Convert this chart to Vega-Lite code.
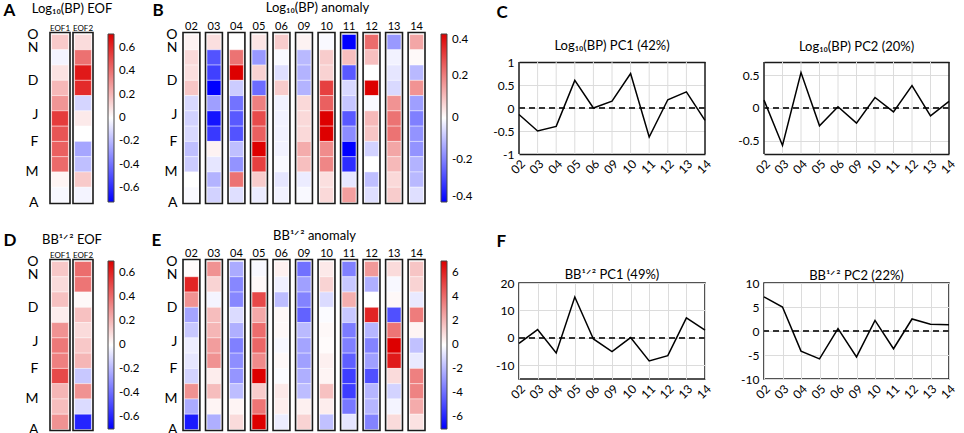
{
  "$schema": "https://vega.github.io/schema/vega-lite/v6.json",
  "padding": {"left": 3, "top": 1, "right": 2, "bottom": 0},
  "config": {
    "font": "Lato",
    "view": {"stroke": null},
    "axis": {"labelColor": "black", "titleColor": "black", "labelOverlap": false, "domain": false, "ticks": false},
    "legend": {"labelColor": "black"},
    "title": {"color": "black"}
  },
  "datasets": {
    "eofA": [
      {"c": "EOF1", "t": 0, "v": 0.15}, {"c": "EOF1", "t": 1, "v": -0.03}, {"c": "EOF1", "t": 2, "v": 0.08}, {"c": "EOF1", "t": 3, "v": 0.2}, {"c": "EOF1", "t": 4, "v": 0.3}, {"c": "EOF1", "t": 5, "v": 0.55}, {"c": "EOF1", "t": 6, "v": 0.48}, {"c": "EOF1", "t": 7, "v": 0.45}, {"c": "EOF1", "t": 8, "v": 0.42}, {"c": "EOF1", "t": 9, "v": 0.03}, {"c": "EOF1", "t": 10, "v": -0.02},
      {"c": "EOF2", "t": 0, "v": 0.1}, {"c": "EOF2", "t": 1, "v": 0.4}, {"c": "EOF2", "t": 2, "v": 0.65}, {"c": "EOF2", "t": 3, "v": 0.6}, {"c": "EOF2", "t": 4, "v": -0.12}, {"c": "EOF2", "t": 5, "v": 0.06}, {"c": "EOF2", "t": 6, "v": 0}, {"c": "EOF2", "t": 7, "v": -0.25}, {"c": "EOF2", "t": 8, "v": -0.18}, {"c": "EOF2", "t": 9, "v": 0.15}, {"c": "EOF2", "t": 10, "v": -0.03}
    ],
    "eofD": [
      {"c": "EOF1", "t": 0, "v": 0.15}, {"c": "EOF1", "t": 1, "v": 0.1}, {"c": "EOF1", "t": 2, "v": 0.17}, {"c": "EOF1", "t": 3, "v": 0.05}, {"c": "EOF1", "t": 4, "v": 0.3}, {"c": "EOF1", "t": 5, "v": 0.37}, {"c": "EOF1", "t": 6, "v": 0.35}, {"c": "EOF1", "t": 7, "v": 0.5}, {"c": "EOF1", "t": 8, "v": 0.2}, {"c": "EOF1", "t": 9, "v": 0.18}, {"c": "EOF1", "t": 10, "v": 0.3},
      {"c": "EOF2", "t": 0, "v": 0.4}, {"c": "EOF2", "t": 1, "v": 0.38}, {"c": "EOF2", "t": 2, "v": 0.02}, {"c": "EOF2", "t": 3, "v": 0.17}, {"c": "EOF2", "t": 4, "v": 0.1}, {"c": "EOF2", "t": 5, "v": 0.15}, {"c": "EOF2", "t": 6, "v": 0.2}, {"c": "EOF2", "t": 7, "v": -0.15}, {"c": "EOF2", "t": 8, "v": 0.3}, {"c": "EOF2", "t": 9, "v": -0.1}, {"c": "EOF2", "t": 10, "v": -0.6}
    ],
    "anomB": [
      {"c": "02", "t": 0, "v": 0.02}, {"c": "02", "t": 1, "v": 0.06}, {"c": "02", "t": 2, "v": 0.05}, {"c": "02", "t": 3, "v": 0.09}, {"c": "02", "t": 4, "v": -0.06}, {"c": "02", "t": 5, "v": -0.07}, {"c": "02", "t": 6, "v": -0.06}, {"c": "02", "t": 7, "v": -0.1}, {"c": "02", "t": 8, "v": -0.08}, {"c": "02", "t": 9, "v": 0}, {"c": "02", "t": 10, "v": -0.01},
      {"c": "03", "t": 0, "v": 0.05}, {"c": "03", "t": 1, "v": -0.27}, {"c": "03", "t": 2, "v": -0.3}, {"c": "03", "t": 3, "v": -0.4}, {"c": "03", "t": 4, "v": -0.15}, {"c": "03", "t": 5, "v": -0.37}, {"c": "03", "t": 6, "v": -0.31}, {"c": "03", "t": 7, "v": 0.02}, {"c": "03", "t": 8, "v": -0.04}, {"c": "03", "t": 9, "v": -0.12}, {"c": "03", "t": 10, "v": -0.07},
      {"c": "04", "t": 0, "v": 0}, {"c": "04", "t": 1, "v": 0.22}, {"c": "04", "t": 2, "v": 0.4}, {"c": "04", "t": 3, "v": -0.08}, {"c": "04", "t": 4, "v": -0.22}, {"c": "04", "t": 5, "v": -0.26}, {"c": "04", "t": 6, "v": -0.27}, {"c": "04", "t": 7, "v": -0.1}, {"c": "04", "t": 8, "v": -0.17}, {"c": "04", "t": 9, "v": 0.22}, {"c": "04", "t": 10, "v": -0.05},
      {"c": "05", "t": 0, "v": 0.04}, {"c": "05", "t": 1, "v": -0.16}, {"c": "05", "t": 2, "v": 0.07}, {"c": "05", "t": 3, "v": -0.23}, {"c": "05", "t": 4, "v": 0.2}, {"c": "05", "t": 5, "v": 0.28}, {"c": "05", "t": 6, "v": 0.25}, {"c": "05", "t": 7, "v": 0.4}, {"c": "05", "t": 8, "v": 0.3}, {"c": "05", "t": 9, "v": 0.08}, {"c": "05", "t": 10, "v": -0.03},
      {"c": "06", "t": 0, "v": 0.08}, {"c": "06", "t": 1, "v": -0.01}, {"c": "06", "t": 2, "v": -0.05}, {"c": "06", "t": 3, "v": 0.08}, {"c": "06", "t": 4, "v": -0.02}, {"c": "06", "t": 5, "v": -0.02}, {"c": "06", "t": 6, "v": -0.02}, {"c": "06", "t": 7, "v": -0.02}, {"c": "06", "t": 8, "v": -0.01}, {"c": "06", "t": 9, "v": -0.04}, {"c": "06", "t": 10, "v": -0.02},
      {"c": "09", "t": 0, "v": 0.02}, {"c": "09", "t": 1, "v": -0.11}, {"c": "09", "t": 2, "v": -0.12}, {"c": "09", "t": 3, "v": -0.12}, {"c": "09", "t": 4, "v": 0.06}, {"c": "09", "t": 5, "v": 0.06}, {"c": "09", "t": 6, "v": 0.06}, {"c": "09", "t": 7, "v": 0.13}, {"c": "09", "t": 8, "v": 0.1}, {"c": "09", "t": 9, "v": -0.03}, {"c": "09", "t": 10, "v": -0.01},
      {"c": "10", "t": 0, "v": -0.01}, {"c": "10", "t": 1, "v": 0.08}, {"c": "10", "t": 2, "v": 0.07}, {"c": "10", "t": 3, "v": 0.3}, {"c": "10", "t": 4, "v": 0.25}, {"c": "10", "t": 5, "v": 0.4}, {"c": "10", "t": 6, "v": 0.4}, {"c": "10", "t": 7, "v": 0.18}, {"c": "10", "t": 8, "v": 0.19}, {"c": "10", "t": 9, "v": 0.05}, {"c": "10", "t": 10, "v": 0.06},
      {"c": "11", "t": 0, "v": -0.4}, {"c": "11", "t": 1, "v": 0.1}, {"c": "11", "t": 2, "v": -0.26}, {"c": "11", "t": 3, "v": -0.06}, {"c": "11", "t": 4, "v": -0.09}, {"c": "11", "t": 5, "v": -0.26}, {"c": "11", "t": 6, "v": -0.18}, {"c": "11", "t": 7, "v": -0.4}, {"c": "11", "t": 8, "v": -0.33}, {"c": "11", "t": 9, "v": -0.04}, {"c": "11", "t": 10, "v": 0.15},
      {"c": "12", "t": 0, "v": 0.23}, {"c": "12", "t": 1, "v": 0.1}, {"c": "12", "t": 2, "v": 0}, {"c": "12", "t": 3, "v": 0.4}, {"c": "12", "t": 4, "v": -0.01}, {"c": "12", "t": 5, "v": 0.11}, {"c": "12", "t": 6, "v": 0.09}, {"c": "12", "t": 7, "v": -0.07}, {"c": "12", "t": 8, "v": 0}, {"c": "12", "t": 9, "v": -0.1}, {"c": "12", "t": 10, "v": -0.05},
      {"c": "13", "t": 0, "v": -0.16}, {"c": "13", "t": 1, "v": -0.02}, {"c": "13", "t": 2, "v": -0.04}, {"c": "13", "t": 3, "v": -0.06}, {"c": "13", "t": 4, "v": 0.17}, {"c": "13", "t": 5, "v": 0.22}, {"c": "13", "t": 6, "v": 0.22}, {"c": "13", "t": 7, "v": 0.14}, {"c": "13", "t": 8, "v": 0.11}, {"c": "13", "t": 9, "v": 0.06}, {"c": "13", "t": 10, "v": 0.08},
      {"c": "14", "t": 0, "v": 0.14}, {"c": "14", "t": 1, "v": 0.01}, {"c": "14", "t": 2, "v": -0.11}, {"c": "14", "t": 3, "v": 0.17}, {"c": "14", "t": 4, "v": -0.15}, {"c": "14", "t": 5, "v": -0.2}, {"c": "14", "t": 6, "v": -0.17}, {"c": "14", "t": 7, "v": -0.17}, {"c": "14", "t": 8, "v": -0.12}, {"c": "14", "t": 9, "v": -0.11}, {"c": "14", "t": 10, "v": -0.05}
    ],
    "anomE": [
      {"c": "02", "t": 0, "v": 0.1}, {"c": "02", "t": 1, "v": 6}, {"c": "02", "t": 2, "v": 3}, {"c": "02", "t": 3, "v": -2.5}, {"c": "02", "t": 4, "v": -1.5}, {"c": "02", "t": 5, "v": -0.5}, {"c": "02", "t": 6, "v": -0.7}, {"c": "02", "t": 7, "v": -1.2}, {"c": "02", "t": 8, "v": 3}, {"c": "02", "t": 9, "v": -2.3}, {"c": "02", "t": 10, "v": -6.3},
      {"c": "03", "t": 0, "v": 3}, {"c": "03", "t": 1, "v": 1.2}, {"c": "03", "t": 2, "v": -0.3}, {"c": "03", "t": 3, "v": 1.8}, {"c": "03", "t": 4, "v": 2}, {"c": "03", "t": 5, "v": 2.7}, {"c": "03", "t": 6, "v": 3}, {"c": "03", "t": 7, "v": 0.5}, {"c": "03", "t": 8, "v": 1.8}, {"c": "03", "t": 9, "v": 0.3}, {"c": "03", "t": 10, "v": -2.2},
      {"c": "04", "t": 0, "v": -2.3}, {"c": "04", "t": 1, "v": -3.3}, {"c": "04", "t": 2, "v": -3.3}, {"c": "04", "t": 3, "v": -1}, {"c": "04", "t": 4, "v": -2.2}, {"c": "04", "t": 5, "v": -3.5}, {"c": "04", "t": 6, "v": -3.1}, {"c": "04", "t": 7, "v": -2.9}, {"c": "04", "t": 8, "v": -1.8}, {"c": "04", "t": 9, "v": 0.3}, {"c": "04", "t": 10, "v": 1},
      {"c": "05", "t": 0, "v": -0.2}, {"c": "05", "t": 1, "v": 0.2}, {"c": "05", "t": 2, "v": 5}, {"c": "05", "t": 3, "v": 2.4}, {"c": "05", "t": 4, "v": 4}, {"c": "05", "t": 5, "v": 4.2}, {"c": "05", "t": 6, "v": 3.2}, {"c": "05", "t": 7, "v": 7}, {"c": "05", "t": 8, "v": 1.4}, {"c": "05", "t": 9, "v": 3.8}, {"c": "05", "t": 10, "v": 7},
      {"c": "06", "t": 0, "v": 0.4}, {"c": "06", "t": 1, "v": -0.4}, {"c": "06", "t": 2, "v": -1.8}, {"c": "06", "t": 3, "v": 0.2}, {"c": "06", "t": 4, "v": 0.2}, {"c": "06", "t": 5, "v": -0.2}, {"c": "06", "t": 6, "v": 0.2}, {"c": "06", "t": 7, "v": -0.1}, {"c": "06", "t": 8, "v": 0.6}, {"c": "06", "t": 9, "v": 0.5}, {"c": "06", "t": 10, "v": -0.5},
      {"c": "09", "t": 0, "v": -3.9}, {"c": "09", "t": 1, "v": -2.6}, {"c": "09", "t": 2, "v": -3.4}, {"c": "09", "t": 3, "v": -4.3}, {"c": "09", "t": 4, "v": -1.9}, {"c": "09", "t": 5, "v": -2.5}, {"c": "09", "t": 6, "v": -2.6}, {"c": "09", "t": 7, "v": -2.2}, {"c": "09", "t": 8, "v": -1.8}, {"c": "09", "t": 9, "v": 0.4}, {"c": "09", "t": 10, "v": 1.2},
      {"c": "10", "t": 0, "v": 0.6}, {"c": "10", "t": 1, "v": 1.2}, {"c": "10", "t": 2, "v": -1}, {"c": "10", "t": 3, "v": -0.1}, {"c": "10", "t": 4, "v": 0.2}, {"c": "10", "t": 5, "v": 0.1}, {"c": "10", "t": 6, "v": 0.4}, {"c": "10", "t": 7, "v": 0.3}, {"c": "10", "t": 8, "v": 1.7}, {"c": "10", "t": 9, "v": 0.5}, {"c": "10", "t": 10, "v": -1.7},
      {"c": "11", "t": 0, "v": -3.5}, {"c": "11", "t": 1, "v": -1.5}, {"c": "11", "t": 2, "v": 2.2}, {"c": "11", "t": 3, "v": -1.5}, {"c": "11", "t": 4, "v": -3.6}, {"c": "11", "t": 5, "v": -3.5}, {"c": "11", "t": 6, "v": -4.4}, {"c": "11", "t": 7, "v": -5.3}, {"c": "11", "t": 8, "v": -5.3}, {"c": "11", "t": 9, "v": -3.7}, {"c": "11", "t": 10, "v": -0.7},
      {"c": "12", "t": 0, "v": 2.8}, {"c": "12", "t": 1, "v": -2.2}, {"c": "12", "t": 2, "v": 0}, {"c": "12", "t": 3, "v": 6}, {"c": "12", "t": 4, "v": -2}, {"c": "12", "t": 5, "v": -3.4}, {"c": "12", "t": 6, "v": -2.6}, {"c": "12", "t": 7, "v": -4.8}, {"c": "12", "t": 8, "v": -2}, {"c": "12", "t": 9, "v": -2}, {"c": "12", "t": 10, "v": -3.4},
      {"c": "13", "t": 0, "v": 1}, {"c": "13", "t": 1, "v": -0.2}, {"c": "13", "t": 2, "v": 0.2}, {"c": "13", "t": 3, "v": -4.8}, {"c": "13", "t": 4, "v": 3.8}, {"c": "13", "t": 5, "v": 7}, {"c": "13", "t": 6, "v": 6.3}, {"c": "13", "t": 7, "v": 1}, {"c": "13", "t": 8, "v": -1.2}, {"c": "13", "t": 9, "v": -0.3}, {"c": "13", "t": 10, "v": 1},
      {"c": "14", "t": 0, "v": 1.6}, {"c": "14", "t": 1, "v": 1.2}, {"c": "14", "t": 2, "v": -0.6}, {"c": "14", "t": 3, "v": 3.6}, {"c": "14", "t": 4, "v": 0.3}, {"c": "14", "t": 5, "v": -1.7}, {"c": "14", "t": 6, "v": -0.6}, {"c": "14", "t": 7, "v": 3.5}, {"c": "14", "t": 8, "v": 3.4}, {"c": "14", "t": 9, "v": 2.3}, {"c": "14", "t": 10, "v": 0.8}
    ],
    "pcC": [
      {"c": "02", "pc1": -0.14, "pc2": 0.12}, {"c": "03", "pc1": -0.5, "pc2": -0.57}, {"c": "04", "pc1": -0.4, "pc2": 0.54}, {"c": "05", "pc1": 0.6, "pc2": -0.27}, {"c": "06", "pc1": 0, "pc2": 0.02}, {"c": "09", "pc1": 0.15, "pc2": -0.23}, {"c": "10", "pc1": 0.75, "pc2": 0.16}, {"c": "11", "pc1": -0.63, "pc2": -0.06}, {"c": "12", "pc1": 0.18, "pc2": 0.34}, {"c": "13", "pc1": 0.35, "pc2": -0.12}, {"c": "14", "pc1": -0.27, "pc2": 0.1}
    ],
    "pcF": [
      {"c": "02", "pc1": -2, "pc2": 7.1}, {"c": "03", "pc1": 3, "pc2": 5}, {"c": "04", "pc1": -5.5, "pc2": -4.2}, {"c": "05", "pc1": 14.9, "pc2": -5.8}, {"c": "06", "pc1": -0.4, "pc2": 0.5}, {"c": "09", "pc1": -5, "pc2": -5.4}, {"c": "10", "pc1": 0.1, "pc2": 2.2}, {"c": "11", "pc1": -8.4, "pc2": -3.7}, {"c": "12", "pc1": -6.5, "pc2": 2.5}, {"c": "13", "pc1": 7.3, "pc2": 1.4}, {"c": "14", "pc1": 2.8, "pc2": 1.3}
    ]
  },
  "spacing": 19,
  "hconcat": [
    {
      "columns": 2,
      "bounds": "flush",
      "spacing": {"row": 59, "column": 90},
      "resolve": {"scale": {"color": "independent", "x": "independent", "y": "independent"}, "legend": {"color": "independent"}},
      "concat": [
        {
          "width": 43, "height": 168,
          "data": {"name": "eofA"},
          "layer": [
            {
              "mark": {"type": "rect", "width": {"band": 0.84}, "stroke": "#ffffff", "strokeWidth": 0.4},
              "encoding": {
                "x": {"field": "c", "type": "nominal", "scale": {"paddingInner": 0.13, "paddingOuter": 0},
                  "axis": {"orient": "top", "title": "Log₁₀(BP) EOF", "titleFontSize": 13, "titleFontWeight": "normal", "titlePadding": 9, "labelFontSize": 8, "labelAngle": 0, "labelPadding": 2}},
                "y": {"field": "t", "type": "quantitative", "bin": {"step": 1, "extent": [0, 11]}, "scale": {"domain": [0, 11], "reverse": true, "nice": false, "zero": false},
                  "axis": {"title": "A", "titleAngle": 0, "titleX": -47, "titleY": -19, "titleAlign": "left", "titleBaseline": "alphabetic", "titleFontSize": 17, "titleFontWeight": "bold",
                    "values": [0, 0.9, 3.07, 5.25, 7.05, 9, 11], "labelExpr": "datum.value < 0.5 ? 'O' : datum.value < 2 ? 'N' : datum.value < 4 ? 'D' : datum.value < 6 ? 'J' : datum.value < 8 ? 'F' : datum.value < 10 ? 'M' : 'A'",
                    "labelFontSize": 14, "labelPadding": 12, "grid": false}},
                "color": {"field": "v", "type": "quantitative", "scale": {"domain": [-0.72, 0, 0.72], "range": ["#0000ff", "#ffffff", "#dd0000"], "interpolate": "rgb"},
                  "legend": {"title": null, "orient": "right", "offset": 15, "gradientLength": 168, "gradientThickness": 6, "values": [-0.6, -0.4, -0.2, 0, 0.2, 0.4, 0.6], "labelExpr": "(datum.value < 0 ? '-' : '') + format(abs(datum.value), '.2~r')", "labelFontSize": 11.5, "labelBaseline": "middle", "labelOffset": 5, "gradientStrokeColor": "#444", "gradientStrokeWidth": 1, "labelOverlap": false}}
              }
            },
            {
              "transform": [{"aggregate": [{"op": "count", "as": "n"}], "groupby": ["c"]}],
              "mark": {"type": "rect", "fill": "transparent", "stroke": "#1a1a1a", "strokeWidth": 1.6},
              "encoding": {"x": {"field": "c", "type": "nominal"}, "y": {"datum": -0.1}, "y2": {"datum": 11.1}}
            }
          ]
        },
        {
          "width": 242, "height": 168,
          "data": {"name": "anomB"},
          "layer": [
            {
              "mark": {"type": "rect", "width": {"band": 0.82}, "stroke": "#ffffff", "strokeWidth": 0.4},
              "encoding": {
                "x": {"field": "c", "type": "nominal", "scale": {"paddingInner": 0.25, "paddingOuter": 0},
                  "axis": {"orient": "top", "title": "Log₁₀(BP) anomaly", "titleX": 134, "titleFontSize": 13, "titleFontWeight": "normal", "titlePadding": 6, "labelFontSize": 11, "labelAngle": 0, "labelPadding": 3}},
                "y": {"field": "t", "type": "quantitative", "bin": {"step": 1, "extent": [0, 11]}, "scale": {"domain": [0, 11], "reverse": true, "nice": false, "zero": false},
                  "axis": {"title": "B", "titleAngle": 0, "titleX": -31, "titleY": -19, "titleAlign": "left", "titleBaseline": "alphabetic", "titleFontSize": 17, "titleFontWeight": "bold",
                    "values": [0, 0.9, 3.07, 5.25, 7.05, 9, 11], "labelExpr": "datum.value < 0.5 ? 'O' : datum.value < 2 ? 'N' : datum.value < 4 ? 'D' : datum.value < 6 ? 'J' : datum.value < 8 ? 'F' : datum.value < 10 ? 'M' : 'A'",
                    "labelFontSize": 14, "labelPadding": 6, "grid": false}},
                "color": {"field": "v", "type": "quantitative", "scale": {"domain": [-0.4, 0, 0.4], "range": ["#0000ff", "#ffffff", "#dd0000"], "interpolate": "rgb"},
                  "legend": {"title": null, "orient": "right", "offset": 16, "gradientLength": 168, "gradientThickness": 6, "values": [-0.4, -0.2, 0, 0.2, 0.4], "labelExpr": "(datum.value < 0 ? '-' : '') + format(abs(datum.value), '.2~r')", "labelFontSize": 11.5, "labelBaseline": "middle", "labelOffset": 5, "gradientStrokeColor": "#444", "gradientStrokeWidth": 1, "labelOverlap": false}}
              }
            },
            {
              "transform": [{"aggregate": [{"op": "count", "as": "n"}], "groupby": ["c"]}],
              "mark": {"type": "rect", "fill": "transparent", "stroke": "#1a1a1a", "strokeWidth": 1.6},
              "encoding": {"x": {"field": "c", "type": "nominal"}, "y": {"datum": -0.1}, "y2": {"datum": 11.1}}
            }
          ]
        },
        {
          "width": 43, "height": 168,
          "data": {"name": "eofD"},
          "layer": [
            {
              "mark": {"type": "rect", "width": {"band": 0.84}, "stroke": "#ffffff", "strokeWidth": 0.4},
              "encoding": {
                "x": {"field": "c", "type": "nominal", "scale": {"paddingInner": 0.13, "paddingOuter": 0},
                  "axis": {"orient": "top", "title": "BB¹ᐟ² EOF", "titleFontSize": 13, "titleFontWeight": "normal", "titlePadding": 5, "labelFontSize": 8, "labelAngle": 0, "labelPadding": 2}},
                "y": {"field": "t", "type": "quantitative", "bin": {"step": 1, "extent": [0, 11]}, "scale": {"domain": [0, 11], "reverse": true, "nice": false, "zero": false},
                  "axis": {"title": "D", "titleAngle": 0, "titleX": -47, "titleY": -16, "titleAlign": "left", "titleBaseline": "alphabetic", "titleFontSize": 17, "titleFontWeight": "bold",
                    "values": [0, 0.9, 3.07, 5.25, 7.05, 9, 11], "labelExpr": "datum.value < 0.5 ? 'O' : datum.value < 2 ? 'N' : datum.value < 4 ? 'D' : datum.value < 6 ? 'J' : datum.value < 8 ? 'F' : datum.value < 10 ? 'M' : 'A'",
                    "labelFontSize": 14, "labelPadding": 12, "grid": false}},
                "color": {"field": "v", "type": "quantitative", "scale": {"domain": [-0.7, 0, 0.7], "range": ["#0000ff", "#ffffff", "#dd0000"], "interpolate": "rgb"},
                  "legend": {"title": null, "orient": "right", "offset": 15, "gradientLength": 168, "gradientThickness": 6, "values": [-0.6, -0.4, -0.2, 0, 0.2, 0.4, 0.6], "labelExpr": "(datum.value < 0 ? '-' : '') + format(abs(datum.value), '.2~r')", "labelFontSize": 11.5, "labelBaseline": "middle", "labelOffset": 5, "gradientStrokeColor": "#444", "gradientStrokeWidth": 1, "labelOverlap": false}}
              }
            },
            {
              "transform": [{"aggregate": [{"op": "count", "as": "n"}], "groupby": ["c"]}],
              "mark": {"type": "rect", "fill": "transparent", "stroke": "#1a1a1a", "strokeWidth": 1.6},
              "encoding": {"x": {"field": "c", "type": "nominal"}, "y": {"datum": -0.1}, "y2": {"datum": 11.1}}
            }
          ]
        },
        {
          "width": 242, "height": 168,
          "data": {"name": "anomE"},
          "layer": [
            {
              "mark": {"type": "rect", "width": {"band": 0.82}, "stroke": "#ffffff", "strokeWidth": 0.4},
              "encoding": {
                "x": {"field": "c", "type": "nominal", "scale": {"paddingInner": 0.25, "paddingOuter": 0},
                  "axis": {"orient": "top", "title": "BB¹ᐟ² anomaly", "titleX": 131, "titleFontSize": 13, "titleFontWeight": "normal", "titlePadding": 5, "labelFontSize": 11, "labelAngle": 0, "labelPadding": 3}},
                "y": {"field": "t", "type": "quantitative", "bin": {"step": 1, "extent": [0, 11]}, "scale": {"domain": [0, 11], "reverse": true, "nice": false, "zero": false},
                  "axis": {"title": "E", "titleAngle": 0, "titleX": -32, "titleY": -16, "titleAlign": "left", "titleBaseline": "alphabetic", "titleFontSize": 17, "titleFontWeight": "bold",
                    "values": [0, 0.9, 3.07, 5.25, 7.05, 9, 11], "labelExpr": "datum.value < 0.5 ? 'O' : datum.value < 2 ? 'N' : datum.value < 4 ? 'D' : datum.value < 6 ? 'J' : datum.value < 8 ? 'F' : datum.value < 10 ? 'M' : 'A'",
                    "labelFontSize": 14, "labelPadding": 6, "grid": false}},
                "color": {"field": "v", "type": "quantitative", "scale": {"domain": [-7, 0, 7], "range": ["#0000ff", "#ffffff", "#dd0000"], "interpolate": "rgb"},
                  "legend": {"title": null, "orient": "right", "offset": 16, "gradientLength": 168, "gradientThickness": 6, "values": [-6, -4, -2, 0, 2, 4, 6], "labelExpr": "(datum.value < 0 ? '-' : '') + format(abs(datum.value), '.2~r')", "labelFontSize": 11.5, "labelBaseline": "middle", "labelOffset": 5, "gradientStrokeColor": "#444", "gradientStrokeWidth": 1, "labelOverlap": false}}
              }
            },
            {
              "transform": [{"aggregate": [{"op": "count", "as": "n"}], "groupby": ["c"]}],
              "mark": {"type": "rect", "fill": "transparent", "stroke": "#1a1a1a", "strokeWidth": 1.6},
              "encoding": {"x": {"field": "c", "type": "nominal"}, "y": {"datum": -0.1}, "y2": {"datum": 11.1}}
            }
          ]
        }
      ]
    },
    {
      "columns": 2,
      "bounds": "flush",
      "spacing": {"row": 129, "column": 59},
      "resolve": {"scale": {"x": "independent", "y": "independent"}},
      "concat": [
        {
          "width": 186, "height": 120,
          "data": {"name": "pcC"},
          "title": {"text": "Log₁₀(BP) PC1 (42%)", "fontSize": 13, "fontWeight": "normal", "offset": 0, "dy": 50},
          "layer": [
            {"mark": {"type": "rule"},
             "encoding": {
               "x": {"field": "c", "type": "ordinal", "scale": {"type": "point", "padding": 0}, "axis": {"title": null, "labelAngle": -45, "labelFontSize": 12, "grid": false, "labelPadding": 4}},
               "y": {"datum": -1, "type": "quantitative", "axis": {"title": "C", "titleAngle": 0, "titleX": -23, "titleY": -17, "titleAlign": "left", "titleBaseline": "alphabetic", "titleFontSize": 17, "titleFontWeight": "bold", "values": [-1, -0.5, 0, 0.5, 1], "labelExpr": "(datum.value < 0 ? '-' : '') + format(abs(datum.value), '.2~r')", "grid": true, "gridColor": {"condition": {"test": "abs(datum.value) == 1", "value": "#1a1a1a"}, "value": "#dcdcdc"}, "gridWidth": {"condition": {"test": "abs(datum.value) == 1", "value": 1.5}, "value": 1}, "labelFontSize": 12, "labelPadding": 5}},
               "y2": {"datum": 1},
               "color": {"condition": {"test": "datum.c == '02' || datum.c == '14'", "value": "#1a1a1a"}, "value": "#dcdcdc"},
               "strokeWidth": {"condition": {"test": "datum.c == '02' || datum.c == '14'", "value": 1.5}, "value": 1}}},
            {"mark": {"type": "rule", "strokeDash": [6, 4], "color": "#333", "strokeWidth": 1.3},
             "encoding": {
               "y": {"datum": 0, "type": "quantitative", "axis": {"title": "C", "titleAngle": 0, "titleX": -23, "titleY": -17, "titleAlign": "left", "titleBaseline": "alphabetic", "titleFontSize": 17, "titleFontWeight": "bold", "values": [-1, -0.5, 0, 0.5, 1], "labelExpr": "(datum.value < 0 ? '-' : '') + format(abs(datum.value), '.2~r')", "grid": true, "gridColor": {"condition": {"test": "abs(datum.value) == 1", "value": "#1a1a1a"}, "value": "#dcdcdc"}, "gridWidth": {"condition": {"test": "abs(datum.value) == 1", "value": 1.5}, "value": 1}, "labelFontSize": 12, "labelPadding": 5}}}},
            {
              "mark": {"type": "line", "color": "black", "strokeWidth": 1.5},
              "encoding": {
                "x": {"field": "c", "type": "ordinal", "scale": {"type": "point", "padding": 0}, "axis": {"title": null, "labelAngle": -45, "labelFontSize": 12, "grid": false, "labelPadding": 4}},
                "y": {"field": "pc1", "type": "quantitative", "scale": {"domain": [-1, 1.6087], "nice": false, "zero": false},
                  "axis": {"title": "C", "titleAngle": 0, "titleX": -23, "titleY": -17, "titleAlign": "left", "titleBaseline": "alphabetic", "titleFontSize": 17, "titleFontWeight": "bold", "values": [-1, -0.5, 0, 0.5, 1], "labelExpr": "(datum.value < 0 ? '-' : '') + format(abs(datum.value), '.2~r')", "grid": true, "gridColor": {"condition": {"test": "abs(datum.value) == 1", "value": "#1a1a1a"}, "value": "#dcdcdc"}, "gridWidth": {"condition": {"test": "abs(datum.value) == 1", "value": 1.5}, "value": 1}, "labelFontSize": 12, "labelPadding": 5}}
              }
            }
          ]
        },
        {
          "width": 185, "height": 120,
          "data": {"name": "pcC"},
          "title": {"text": "Log₁₀(BP) PC2 (20%)", "fontSize": 13, "fontWeight": "normal", "offset": 0, "dy": 20},
          "layer": [
            {"mark": {"type": "rule"},
             "encoding": {
               "x": {"field": "c", "type": "ordinal", "scale": {"type": "point", "padding": 0}, "axis": {"title": null, "labelAngle": -45, "labelFontSize": 12, "grid": false, "labelPadding": 4}},
               "y": {"datum": -0.7, "type": "quantitative", "axis": {"title": null, "values": [-0.7, -0.5, 0, 0.5, 0.7], "labelExpr": "abs(datum.value) == 0.7 ? '' : (datum.value < 0 ? '-' : '') + format(abs(datum.value), '.2~r')", "grid": true, "gridColor": {"condition": {"test": "abs(datum.value) == 0.7", "value": "#1a1a1a"}, "value": "#dcdcdc"}, "gridWidth": {"condition": {"test": "abs(datum.value) == 0.7", "value": 1.5}, "value": 1}, "labelFontSize": 12, "labelPadding": 5}},
               "y2": {"datum": 0.7},
               "color": {"condition": {"test": "datum.c == '02' || datum.c == '14'", "value": "#1a1a1a"}, "value": "#dcdcdc"},
               "strokeWidth": {"condition": {"test": "datum.c == '02' || datum.c == '14'", "value": 1.5}, "value": 1}}},
            {"mark": {"type": "rule", "strokeDash": [6, 4], "color": "#333", "strokeWidth": 1.3},
             "encoding": {
               "y": {"datum": 0, "type": "quantitative", "axis": {"title": null, "values": [-0.7, -0.5, 0, 0.5, 0.7], "labelExpr": "abs(datum.value) == 0.7 ? '' : (datum.value < 0 ? '-' : '') + format(abs(datum.value), '.2~r')", "grid": true, "gridColor": {"condition": {"test": "abs(datum.value) == 0.7", "value": "#1a1a1a"}, "value": "#dcdcdc"}, "gridWidth": {"condition": {"test": "abs(datum.value) == 0.7", "value": 1.5}, "value": 1}, "labelFontSize": 12, "labelPadding": 5}}}},
            {
              "mark": {"type": "line", "color": "black", "strokeWidth": 1.5},
              "encoding": {
                "x": {"field": "c", "type": "ordinal", "scale": {"type": "point", "padding": 0}, "axis": {"title": null, "labelAngle": -45, "labelFontSize": 12, "grid": false, "labelPadding": 4}},
                "y": {"field": "pc2", "type": "quantitative", "scale": {"domain": [-0.7, 1.126], "nice": false, "zero": false},
                  "axis": {"title": null, "values": [-0.7, -0.5, 0, 0.5, 0.7], "labelExpr": "abs(datum.value) == 0.7 ? '' : (datum.value < 0 ? '-' : '') + format(abs(datum.value), '.2~r')", "grid": true, "gridColor": {"condition": {"test": "abs(datum.value) == 0.7", "value": "#1a1a1a"}, "value": "#dcdcdc"}, "gridWidth": {"condition": {"test": "abs(datum.value) == 0.7", "value": 1.5}, "value": 1}, "labelFontSize": 12, "labelPadding": 5}}
              }
            }
          ]
        },
        {
          "width": 186, "height": 96,
          "data": {"name": "pcF"},
          "view": {"stroke": "#1a1a1a", "strokeWidth": 1.5},
          "title": {"text": "BB¹ᐟ² PC1 (49%)", "fontSize": 13, "fontWeight": "normal", "offset": 0, "dy": 50},
          "layer": [
            {"mark": {"type": "rule", "strokeDash": [6, 4], "color": "#333", "strokeWidth": 1.3},
             "encoding": {
               "y": {"datum": 0, "type": "quantitative", "axis": {"title": "F", "titleAngle": 0, "titleX": -23, "titleY": -37, "titleAlign": "left", "titleBaseline": "alphabetic", "titleFontSize": 17, "titleFontWeight": "bold", "values": [-10, 0, 10, 20], "labelExpr": "(datum.value < 0 ? '-' : '') + format(abs(datum.value), '.2~r')", "grid": true, "gridColor": "#dcdcdc", "labelFontSize": 12, "labelPadding": 5}}}},
            {
              "mark": {"type": "line", "color": "black", "strokeWidth": 1.5},
              "encoding": {
                "x": {"field": "c", "type": "ordinal", "scale": {"type": "point", "padding": 0},
                  "axis": {"title": null, "labelAngle": -45, "labelFontSize": 12, "grid": true, "gridColor": "#dcdcdc", "labelPadding": 4}},
                "y": {"field": "pc1", "type": "quantitative", "scale": {"domain": [-15, 20], "nice": false, "zero": false},
                  "axis": {"title": "F", "titleAngle": 0, "titleX": -23, "titleY": -37, "titleAlign": "left", "titleBaseline": "alphabetic", "titleFontSize": 17, "titleFontWeight": "bold", "values": [-10, 0, 10, 20], "labelExpr": "(datum.value < 0 ? '-' : '') + format(abs(datum.value), '.2~r')", "grid": true, "gridColor": "#dcdcdc", "labelFontSize": 12, "labelPadding": 5}}
              }
            }
          ]
        },
        {
          "width": 185, "height": 96,
          "data": {"name": "pcF"},
          "view": {"stroke": "#1a1a1a", "strokeWidth": 1.5},
          "title": {"text": "BB¹ᐟ² PC2 (22%)", "fontSize": 13, "fontWeight": "normal", "offset": 0, "dy": 6},
          "layer": [
            {"mark": {"type": "rule", "strokeDash": [6, 4], "color": "#333", "strokeWidth": 1.3},
             "encoding": {
               "y": {"datum": 0, "type": "quantitative", "axis": {"title": null, "values": [-10, -5, 0, 5, 10], "labelExpr": "(datum.value < 0 ? '-' : '') + format(abs(datum.value), '.2~r')", "grid": true, "gridColor": "#dcdcdc", "labelFontSize": 12, "labelPadding": 5}}}},
            {
              "mark": {"type": "line", "color": "black", "strokeWidth": 1.5},
              "encoding": {
                "x": {"field": "c", "type": "ordinal", "scale": {"type": "point", "padding": 0},
                  "axis": {"title": null, "labelAngle": -45, "labelFontSize": 12, "grid": true, "gridColor": "#dcdcdc", "labelPadding": 4}},
                "y": {"field": "pc2", "type": "quantitative", "scale": {"domain": [-10, 10], "nice": false, "zero": false},
                  "axis": {"title": null, "values": [-10, -5, 0, 5, 10], "labelExpr": "(datum.value < 0 ? '-' : '') + format(abs(datum.value), '.2~r')", "grid": true, "gridColor": "#dcdcdc", "labelFontSize": 12, "labelPadding": 5}}
              }
            }
          ]
        }
      ]
    }
  ]
}
